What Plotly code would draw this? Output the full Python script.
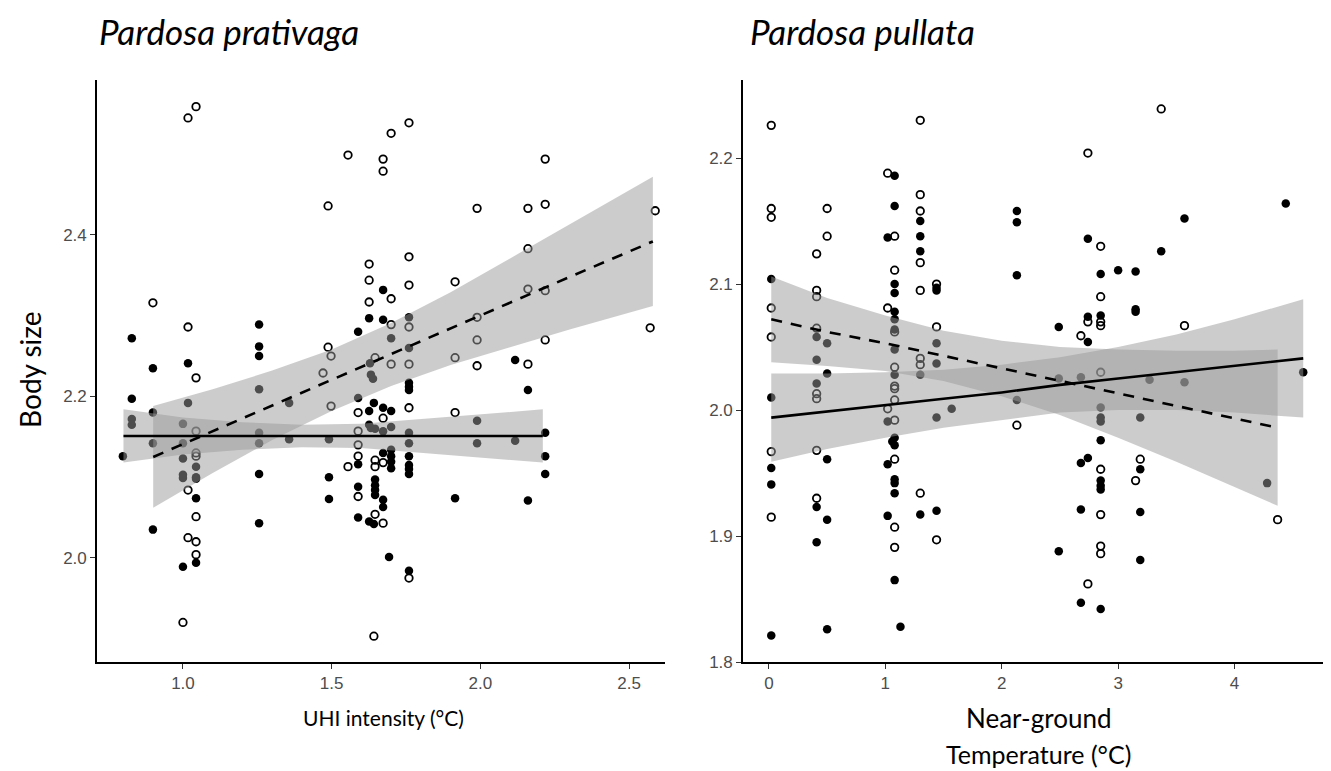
import plotly.graph_objects as go

# ---------------- Left panel: Pardosa prativaga (x = UHI intensity) ----------------
L_filled_x = [0.828, 0.828, 0.828, 0.828, 0.798,
              0.899, 0.899, 0.899, 0.899,
              1.017, 1.017, 1.0, 1.0, 1.0, 1.0, 1.0, 1.0,
              1.044, 1.044, 1.044, 1.044, 1.044,
              1.256, 1.256, 1.256, 1.256, 1.256, 1.256, 1.256, 1.256,
              1.357, 1.357,
              1.491, 1.491, 1.491,
              1.589, 1.589, 1.589, 1.589, 1.589,
              1.626, 1.629, 1.632, 1.626, 1.626, 1.632, 1.626,
              1.642, 1.646, 1.639,
              1.646, 1.646, 1.646, 1.646, 1.642,
              1.673, 1.673, 1.673, 1.673, 1.673, 1.673, 1.673,
              1.70, 1.70, 1.70, 1.70, 1.70, 1.70, 1.70, 1.693,
              1.760, 1.760, 1.760, 1.760, 1.760, 1.760, 1.760, 1.760, 1.760, 1.760, 1.760, 1.760,
              1.915,
              1.989, 1.989,
              2.117, 2.117,
              2.160, 2.160,
              2.218, 2.218, 2.218]
L_filled_y = [2.272, 2.197, 2.172, 2.165, 2.126,
              2.235, 2.180, 2.142, 2.035,
              2.241, 2.192, 2.166, 2.142, 2.123, 2.103, 2.099, 1.989,
              2.113, 2.100, 2.098, 2.074, 1.994,
              2.289, 2.262, 2.250, 2.209, 2.155, 2.142, 2.104, 2.043,
              2.192, 2.147,
              2.147, 2.100, 2.073,
              2.280, 2.198, 2.116, 2.088, 2.050,
              2.297, 2.241, 2.227, 2.182, 2.165, 2.161, 2.045,
              2.192, 2.160, 2.222,
              2.097, 2.090, 2.084, 2.078, 2.042,
              2.332, 2.295, 2.186, 2.157, 2.130, 2.072, 2.063,
              2.272, 2.182, 2.162, 2.134, 2.126, 2.119, 2.111, 2.001,
              2.298, 2.260, 2.217, 2.212, 2.208, 2.155, 2.142, 2.126, 2.115, 2.110, 2.104, 1.984,
              2.074,
              2.170, 2.142,
              2.245, 2.145,
              2.208, 2.071,
              2.155, 2.126, 2.104]

L_open_x = [0.899, 1.017, 1.044, 1.044, 1.044, 1.044, 1.017, 1.044, 1.017, 1.044, 1.044, 1.0,
            1.017, 1.044,
            1.488, 1.488, 1.498, 1.471, 1.498,
            1.555,
            1.589, 1.589, 1.589, 1.589, 1.555, 1.589,
            1.626, 1.626, 1.626,
            1.646, 1.646, 1.646, 1.646, 1.642,
            1.673, 1.673, 1.673, 1.673, 1.673,
            1.70, 1.70, 1.70, 1.70,
            1.760, 1.760, 1.760, 1.760, 1.760, 1.760, 1.760,
            1.915, 1.915, 1.915,
            1.989, 1.989, 1.989, 1.989,
            2.160, 2.160, 2.160, 2.160,
            2.218, 2.218, 2.218, 2.218,
            2.588, 2.571]
L_open_y = [2.316, 2.286, 2.223, 2.157, 2.130, 2.126, 2.084, 2.051, 2.025, 2.020, 2.004, 1.920,
            2.545, 2.559,
            2.436, 2.261, 2.250, 2.229, 2.188,
            2.499,
            2.180, 2.157, 2.140, 2.126, 2.113, 2.076,
            2.364, 2.344, 2.317,
            2.248, 2.121, 2.113, 2.054, 1.903,
            2.494, 2.479, 2.173, 2.118, 2.043,
            2.526, 2.321, 2.289, 2.240,
            2.539, 2.373, 2.338, 2.286, 2.240, 2.186, 1.975,
            2.342, 2.248, 2.180,
            2.433, 2.298, 2.270, 2.238,
            2.433, 2.383, 2.333, 2.240,
            2.494, 2.438, 2.331, 2.270,
            2.430, 2.285]

# fitted lines and confidence bands
L_solid_x = [0.80, 1.0, 1.2, 1.4, 1.6, 1.8, 2.0, 2.21]
L_solid_fit = [2.151, 2.151, 2.151, 2.151, 2.151, 2.151, 2.151, 2.151]
L_solid_lo = [2.118, 2.128, 2.134, 2.137, 2.136, 2.130, 2.124, 2.118]
L_solid_hi = [2.184, 2.174, 2.168, 2.165, 2.166, 2.172, 2.178, 2.184]

L_dash_x = [0.9, 1.1, 1.3, 1.5, 1.7, 1.9, 2.1, 2.3, 2.58]
L_dash_fit = [2.125, 2.157, 2.189, 2.220, 2.252, 2.284, 2.316, 2.348, 2.392]
L_dash_lo = [2.062, 2.105, 2.146, 2.182, 2.213, 2.239, 2.261, 2.283, 2.312]
L_dash_hi = [2.188, 2.209, 2.232, 2.258, 2.291, 2.329, 2.371, 2.413, 2.472]

# ---------------- Right panel: Pardosa pullata (x = near-ground temperature) ----------------
R_filled_x = [0.02, 0.02, 0.02, 0.02, 0.02,
              0.41, 0.41, 0.41, 0.41, 0.41,
              0.50, 0.50, 0.50, 0.50, 0.50,
              1.02, 1.02, 1.02, 1.02, 1.06,
              1.08, 1.08, 1.08, 1.08, 1.08, 1.08, 1.08, 1.08, 1.08, 1.08, 1.08, 1.08, 1.08, 1.08, 1.08,
              1.13,
              1.30, 1.30, 1.30, 1.30, 1.30,
              1.44, 1.44, 1.44, 1.44, 1.44, 1.44,
              1.57,
              2.13, 2.13, 2.13, 2.13,
              2.49, 2.49, 2.49,
              2.68, 2.68, 2.68, 2.68,
              2.74, 2.74, 2.74, 2.74,
              2.85, 2.85, 2.85, 2.85, 2.85, 2.85, 2.85, 2.85, 2.85, 2.85,
              3.0,
              3.15, 3.15, 3.15,
              3.19, 3.19, 3.19, 3.19,
              3.27,
              3.37,
              3.57, 3.57,
              4.28,
              4.44,
              4.59]
R_filled_y = [2.104, 2.010, 1.954, 1.941, 1.821,
              2.058, 2.040, 2.021, 1.923, 1.895,
              2.053, 2.029, 1.961, 1.913, 1.826,
              2.137, 1.991, 1.957, 1.916, 1.975,
              2.186, 2.162, 2.100, 2.093, 2.078, 2.072, 2.064, 2.048, 2.028, 1.978, 1.972, 1.945, 1.942, 1.934, 1.865,
              1.828,
              2.150, 2.138, 2.126, 2.028, 1.917,
              2.097, 2.095, 2.053, 2.037, 1.994, 1.920,
              2.001,
              2.158, 2.149, 2.107, 2.008,
              2.066, 2.025, 1.888,
              2.026, 1.958, 1.921, 1.847,
              2.136, 2.074, 2.054, 1.962,
              2.108, 2.075, 2.002, 1.994, 1.991, 1.976, 1.944, 1.940, 1.937, 1.842,
              2.111,
              2.110, 2.080, 2.078,
              1.994, 1.953, 1.919, 1.881,
              2.024,
              2.126,
              2.152, 2.022,
              1.942,
              2.164,
              2.030]

R_open_x = [0.02, 0.02, 0.02, 0.02, 0.02, 0.02, 0.02,
            0.41, 0.41, 0.41, 0.41, 0.41, 0.41, 0.41, 0.41,
            0.50, 0.50,
            1.02, 1.02, 1.02,
            1.08, 1.08, 1.08, 1.08, 1.08, 1.08, 1.08, 1.08, 1.08, 1.08, 1.08,
            1.30, 1.30, 1.30, 1.30, 1.30, 1.30, 1.30, 1.30,
            1.44, 1.44, 1.44,
            2.13,
            2.68,
            2.74, 2.74, 2.74,
            2.85, 2.85, 2.85, 2.85, 2.85, 2.85, 2.85, 2.85, 2.85,
            3.15,
            3.19,
            3.37,
            3.57,
            4.37]
R_open_y = [2.226, 2.160, 2.153, 2.081, 2.058, 1.967, 1.915,
            2.124, 2.095, 2.090, 2.065, 2.013, 2.009, 1.968, 1.930,
            2.160, 2.138,
            2.188, 2.081, 2.001,
            2.138, 2.111, 2.062, 2.034, 2.019, 2.017, 2.008, 1.992, 1.961, 1.907, 1.891,
            2.230, 2.171, 2.158, 2.117, 2.095, 2.041, 2.036, 1.934,
            2.100, 2.066, 1.897,
            1.988,
            2.059,
            2.204, 2.070, 1.862,
            2.130, 2.090, 2.070, 2.067, 2.030, 1.953, 1.917, 1.892, 1.886,
            1.944,
            1.961,
            2.239,
            2.067,
            1.913]

R_solid_x = [0.02, 0.5, 1.0, 1.5, 2.0, 2.5, 3.0, 3.5, 4.0, 4.59]
R_solid_fit = [1.994, 1.999, 2.004, 2.009, 2.014, 2.020, 2.025, 2.030, 2.035, 2.041]
R_solid_lo = [1.959, 1.969, 1.978, 1.986, 1.992, 1.998, 2.000, 2.000, 1.998, 1.994]
R_solid_hi = [2.029, 2.029, 2.030, 2.032, 2.036, 2.042, 2.050, 2.060, 2.072, 2.088]

R_dash_x = [0.02, 0.5, 1.0, 1.5, 2.0, 2.5, 3.0, 3.5, 4.0, 4.37]
R_dash_fit = [2.072, 2.062, 2.053, 2.043, 2.033, 2.023, 2.013, 2.003, 1.993, 1.986]
R_dash_lo = [2.038, 2.035, 2.031, 2.023, 2.011, 1.996, 1.978, 1.959, 1.939, 1.924]
R_dash_hi = [2.106, 2.089, 2.075, 2.063, 2.055, 2.050, 2.048, 2.047, 2.047, 2.048]

# ---------------- Text ----------------
title_left = "Pardosa prativaga"
title_right = "Pardosa pullata"
ylabel = "Body size"
xlabel_left = "UHI intensity (°C)"
xlabel_right_1 = "Near-ground"
xlabel_right_2 = "Temperature (°C)"

L_xticks = [1.0, 1.5, 2.0, 2.5]
L_yticks = [2.0, 2.2, 2.4]
R_xticks = [0, 1, 2, 3, 4]
R_yticks = [1.8, 1.9, 2.0, 2.1, 2.2]

BAND = "rgba(153,153,153,0.5)"

fig = go.Figure()


def add_panel(xa, ya, fx, fy, ox, oy, bands, lines):
    fig.add_trace(go.Scatter(x=fx, y=fy, mode="markers", xaxis=xa, yaxis=ya,
                             marker=dict(symbol="circle", size=8.5, color="black"),
                             showlegend=False, hoverinfo="skip"))
    fig.add_trace(go.Scatter(x=ox, y=oy, mode="markers", xaxis=xa, yaxis=ya,
                             marker=dict(symbol="circle-open", size=7.5, color="black",
                                         line=dict(width=1.8, color="black")),
                             showlegend=False, hoverinfo="skip"))
    for bx, lo, hi in bands:
        fig.add_trace(go.Scatter(x=list(bx) + list(bx)[::-1], y=list(hi) + list(lo)[::-1],
                                 mode="lines", fill="toself", fillcolor=BAND,
                                 line=dict(width=0), xaxis=xa, yaxis=ya,
                                 showlegend=False, hoverinfo="skip"))
    for lx, ly, dash in lines:
        fig.add_trace(go.Scatter(x=lx, y=ly, mode="lines", xaxis=xa, yaxis=ya,
                                 line=dict(color="black", width=2.6, dash=dash),
                                 showlegend=False, hoverinfo="skip"))


add_panel("x", "y", L_filled_x, L_filled_y, L_open_x, L_open_y,
          [(L_solid_x, L_solid_lo, L_solid_hi), (L_dash_x, L_dash_lo, L_dash_hi)],
          [(L_solid_x, L_solid_fit, "solid"), (L_dash_x, L_dash_fit, "11px,9px")])
add_panel("x2", "y2", R_filled_x, R_filled_y, R_open_x, R_open_y,
          [(R_solid_x, R_solid_lo, R_solid_hi), (R_dash_x, R_dash_lo, R_dash_hi)],
          [(R_solid_x, R_solid_fit, "solid"), (R_dash_x, R_dash_fit, "11px,9px")])

TICKFONT = dict(family="Liberation Sans, Arial, sans-serif", size=17, color="#4d4d4d")
axis_common = dict(showgrid=False, zeroline=False, showline=True, linecolor="black",
                   linewidth=1.6, ticks="outside", ticklen=5, tickwidth=1.2,
                   tickcolor="#333333", tickfont=TICKFONT, mirror=False)

# page body has an 8px margin, so the figure is 8px smaller and offsets reduced
fig.update_layout(
    width=1323, height=763,
    margin=dict(l=89, r=1, t=72, b=109),
    paper_bgcolor="white", plot_bgcolor="white",
    xaxis=dict(domain=[0, 0.4607], range=[0.711, 2.621], tickvals=L_xticks,
               ticktext=[f"{v:.1f}" for v in L_xticks], anchor="y", **axis_common),
    yaxis=dict(domain=[0, 1], range=[1.871, 2.592], tickvals=L_yticks,
               ticktext=[f"{v:.1f}" for v in L_yticks], anchor="x", **axis_common),
    xaxis2=dict(domain=[0.5239, 1], range=[-0.223, 4.82], tickvals=R_xticks,
                ticktext=[str(v) for v in R_xticks], anchor="y2", **axis_common),
    yaxis2=dict(domain=[0, 1], range=[1.800, 2.262], tickvals=R_yticks,
                ticktext=[f"{v:.1f}" for v in R_yticks], anchor="x2", **axis_common),
)

TXT = "Lato, Carlito, Calibri, sans-serif"
TOP = 1 + 72 / 582      # paper y of the figure's top edge
BOTTOM = -109 / 582     # paper y of the figure's bottom edge
ann = [
    dict(text=f"<i>{title_left}</i>", x=0.0, y=TOP, xanchor="left", yanchor="top",
         font=dict(family=TXT, size=35, color="black")),
    dict(text=f"<i>{title_right}</i>", x=0.528, y=TOP, xanchor="left", yanchor="top",
         font=dict(family=TXT, size=35, color="black")),
    dict(text=ylabel, x=-0.0543, y=0.502, xanchor="center", yanchor="middle", textangle=-90,
         font=dict(family=TXT, size=28, color="black")),
    dict(text=xlabel_left, x=0.232, y=-0.0962, xanchor="center", yanchor="middle",
         font=dict(family=TXT, size=21, color="black")),
    dict(text=xlabel_right_1, x=0.7632, y=-0.0962, xanchor="center", yanchor="middle",
         font=dict(family=TXT, size=26, color="black")),
    dict(text=xlabel_right_2, x=0.7632, y=BOTTOM, xanchor="center", yanchor="bottom",
         font=dict(family=TXT, size=25, color="black")),
]
for a in ann:
    a.update(xref="paper", yref="paper", showarrow=False)
fig.update_layout(annotations=ann)

fig.write_html("out.html")
